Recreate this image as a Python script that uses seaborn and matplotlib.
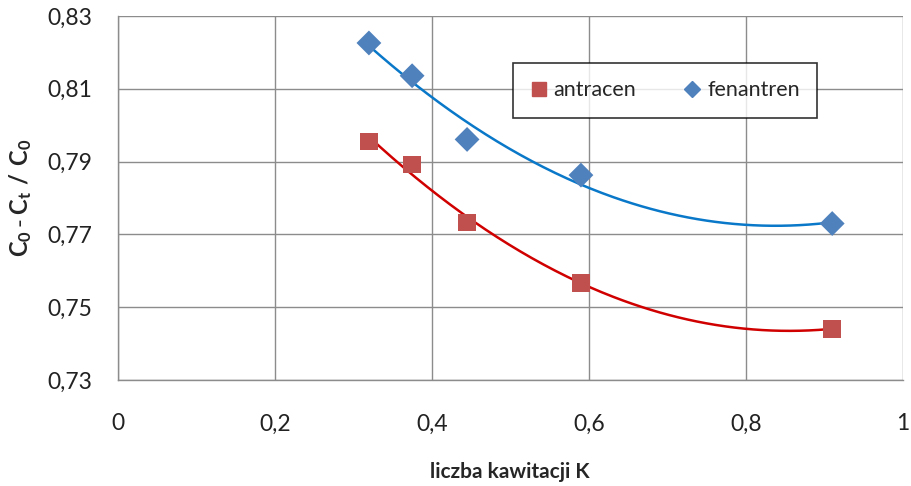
import numpy as np
import pandas as pd
import matplotlib
matplotlib.use("Agg")
import matplotlib.pyplot as plt
import seaborn as sns
from matplotlib.ticker import FuncFormatter
from matplotlib.lines import Line2D

# data
K_values = [0.32, 0.375, 0.445, 0.59, 0.91]
antracen = [0.7955, 0.7892, 0.7733, 0.7567, 0.7441]
fenantren = [0.8226, 0.8136, 0.7961, 0.7863, 0.7730]
series_names = ["antracen", "fenantren"]
x_ticks = [0, 0.2, 0.4, 0.6, 0.8, 1.0]
y_ticks = [0.73, 0.75, 0.77, 0.79, 0.81, 0.83]

sns.set_theme(style="white")
plt.rcParams['font.family'] = ['Lato', 'DejaVu Sans']
plt.rcParams['mathtext.fontset'] = 'custom'
plt.rcParams['mathtext.rm'] = 'Lato'
plt.rcParams['mathtext.bf'] = 'Lato:bold'

df = pd.DataFrame({
    "K": K_values * 2,
    "val": antracen + fenantren,
    "series": [series_names[0]] * 5 + [series_names[1]] * 5,
})

fig = plt.figure(figsize=(9.12, 4.86), dpi=100)
ax = fig.add_axes([0.129, 0.218, 0.861, 0.749])

marker_colors = {"antracen": "#C0504D", "fenantren": "#4F81BD"}
line_colors = {"antracen": "#D00000", "fenantren": "#0A78C8"}

# trendlines (polynomial order 2, as in the source spreadsheet)
for name, vals in zip(series_names, [antracen, fenantren]):
    coef = np.polyfit(K_values, vals, 2)
    xs = np.linspace(min(K_values), max(K_values), 200)
    tl = pd.DataFrame({"K": xs, "val": np.polyval(coef, xs)})
    sns.lineplot(data=tl, x="K", y="val", color=line_colors[name], lw=1.8, ax=ax, legend=False, zorder=2)

sns.scatterplot(data=df, x="K", y="val", hue="series", style="series",
                markers={"antracen": "s", "fenantren": "D"},
                palette=marker_colors,
                s=160, linewidth=0, ax=ax, zorder=3, legend=False)

handles = [
    Line2D([], [], marker="s", color=marker_colors["antracen"], ls="", markersize=10),
    Line2D([], [], marker="D", color=marker_colors["fenantren"], ls="", markersize=8),
]
leg = ax.legend(handles, series_names, ncol=2, loc="center",
                bbox_to_anchor=(0.697, 0.796), frameon=True, fancybox=False,
                fontsize=15.5, handlelength=0.8, handletextpad=0.3, columnspacing=2.2,
                borderpad=0.8, borderaxespad=0)
leg.get_frame().set_edgecolor("black")
leg.get_frame().set_linewidth(1.2)

ax.set_xlim(0, 1)
ax.set_ylim(0.73, 0.83)
ax.set_xticks(x_ticks)
ax.set_yticks(y_ticks)
fmt_x = FuncFormatter(lambda v, p: ("%g" % round(v, 2)).replace(".", ","))
fmt_y = FuncFormatter(lambda v, p: ("%.2f" % v).replace(".", ","))
ax.xaxis.set_major_formatter(fmt_x)
ax.yaxis.set_major_formatter(fmt_y)
ax.grid(True, color="#8C8C8C", lw=1.0)
ax.set_axisbelow(True)
for s in ["top", "right"]:
    ax.spines[s].set_visible(False)
for s in ["left", "bottom"]:
    ax.spines[s].set_color("#8C8C8C")
    ax.spines[s].set_linewidth(1.0)
ax.tick_params(axis="both", which="major", direction="out", length=6, width=1,
               color="#8C8C8C", labelsize=16.5, labelcolor="#222222", pad=12)
ax.tick_params(axis="x", pad=18)

ax.set_xlabel("liczba kawitacji K", fontsize=15, fontweight="bold", labelpad=20)
ax.set_ylabel(r"$\mathbf{C_0\,\text{-}\,C_t\ /\ C_0}$", fontsize=17, labelpad=10)

fig.savefig("out.png", dpi=100)
